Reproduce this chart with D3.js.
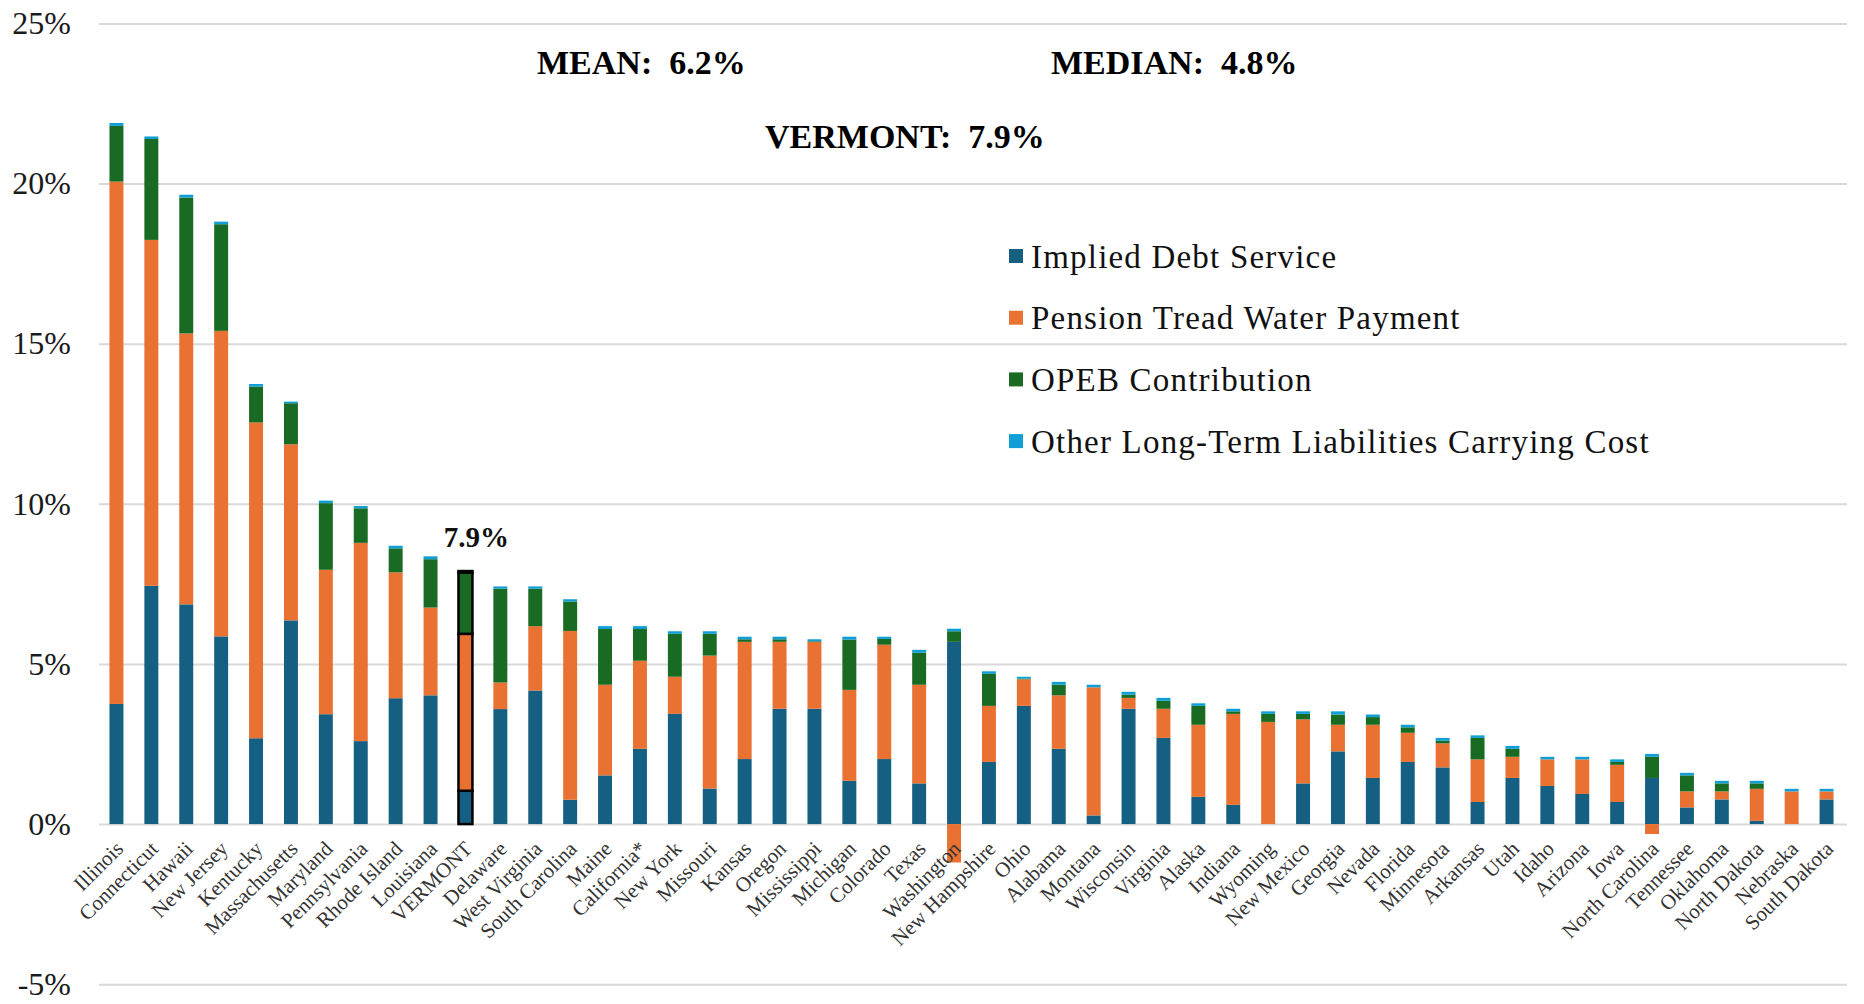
<!DOCTYPE html>
<html>
<head>
<meta charset="utf-8">
<script src="https://cdn.jsdelivr.net/npm/d3@7"></script>
<style>
  html, body { margin: 0; padding: 0; background: #fff; }
  svg text { font-family: 'Liberation Serif', 'Times New Roman', serif; }
</style>
</head>
<body>
<div id="chart"></div>
<script>
const states = ['Illinois', 'Connecticut', 'Hawaii', 'New Jersey', 'Kentucky', 'Massachusetts', 'Maryland',
  'Pennsylvania', 'Rhode Island', 'Louisiana', 'VERMONT', 'Delaware', 'West Virginia', 'South Carolina',
  'Maine', 'California*', 'New York', 'Missouri', 'Kansas', 'Oregon', 'Mississippi', 'Michigan', 'Colorado',
  'Texas', 'Washington', 'New Hampshire', 'Ohio', 'Alabama', 'Montana', 'Wisconsin', 'Virginia', 'Alaska',
  'Indiana', 'Wyoming', 'New Mexico', 'Georgia', 'Nevada', 'Florida', 'Minnesota', 'Arkansas', 'Utah',
  'Idaho', 'Arizona', 'Iowa', 'North Carolina', 'Tennessee', 'Oklahoma', 'North Dakota', 'Nebraska',
  'South Dakota'];

// percent of revenue
const debtService = [3.75, 7.44, 6.86, 5.86, 2.68, 6.36, 3.43, 2.59, 3.93, 4.02, 1.04, 3.59, 4.17, 0.76,
  1.52, 2.35, 3.44, 1.11, 2.03, 3.60, 3.60, 1.35, 2.03, 1.27, 5.69, 1.94, 3.69, 2.35, 0.27, 3.60, 2.69, 0.85,
  0.60, 0.00, 1.27, 2.27, 1.44, 1.94, 1.77, 0.69, 1.44, 1.19, 0.94, 0.69, 1.44, 0.52, 0.77, 0.10, 0.00, 0.77];
const pensionTreadWater = [16.31, 10.80, 8.46, 9.54, 9.86, 5.50, 4.51, 6.19, 3.93, 2.74, 4.90, 0.83, 2.01, 5.27,
  2.83, 2.75, 1.16, 4.15, 3.66, 2.09, 2.09, 2.84, 3.57, 3.08, -1.20, 1.75, 0.83, 1.67, 4.00, 0.34, 0.91, 2.25,
  2.84, 3.19, 2.00, 0.83, 1.66, 0.91, 0.75, 1.33, 0.66, 0.83, 1.08, 1.16, -0.31, 0.50, 0.25, 1.00, 1.02, 0.25];
const opebContribution = [1.74, 3.15, 4.24, 3.33, 1.12, 1.28, 2.08, 1.08, 0.75, 1.51, 1.91, 2.93, 1.17, 0.92,
  1.74, 0.99, 1.34, 0.68, 0.08, 0.08, 0.02, 1.57, 0.18, 1.00, 0.33, 1.00, 0.02, 0.33, 0.00, 0.10, 0.25, 0.59,
  0.08, 0.25, 0.17, 0.32, 0.24, 0.17, 0.08, 0.67, 0.25, 0.00, 0.00, 0.09, 0.66, 0.50, 0.25, 0.17, 0.00, 0.00];
const otherLtl = [0.09, 0.08, 0.09, 0.08, 0.08, 0.05, 0.08, 0.07, 0.08, 0.09, 0.05, 0.07, 0.07, 0.07,
  0.09, 0.09, 0.08, 0.08, 0.08, 0.08, 0.06, 0.09, 0.07, 0.09, 0.08, 0.08, 0.06, 0.09, 0.08, 0.09, 0.09, 0.08,
  0.08, 0.08, 0.08, 0.10, 0.08, 0.08, 0.09, 0.08, 0.09, 0.08, 0.08, 0.08, 0.09, 0.08, 0.08, 0.08, 0.08, 0.08];

const seriesNames = ['Implied Debt Service', 'Pension Tread Water Payment', 'OPEB Contribution',
  'Other Long-Term Liabilities Carrying Cost'];
const seriesColors = ['#156082', '#E97132', '#196B24', '#0F9ED5'];
const yTicks = [-5, 0, 5, 10, 15, 20, 25];

const highlight = 'VERMONT';
const highlightLabel = '7.9%';
const statsTop = ['MEAN:  6.2%', 'MEDIAN:  4.8%'];
const statsVt = 'VERMONT:  7.9%';

const w = 1864;
const h = 1004;

const rows = states.map((s, i) => ({
  state: s,
  debt: debtService[i],
  pension: pensionTreadWater[i],
  opeb: opebContribution[i],
  other: otherLtl[i]
}));
const keys = ['debt', 'pension', 'opeb', 'other'];

const stacked = d3.stack().keys(keys).offset(d3.stackOffsetDiverging)(rows);

const xScale = d3.scaleBand()
  .domain(states)
  .range([99, 1844])
  .paddingInner(0.6)
  .paddingOuter(0.3);

const yScale = d3.scaleLinear()
  .domain([-5, 25])
  .range([984.2, 23.4]);

const svg = d3.select('#chart')
  .append('svg')
  .attr('width', w)
  .attr('height', h);

// y axis + gridlines
const yAxis = svg.append('g')
  .attr('transform', 'translate(99,0)')
  .call(d3.axisLeft(yScale)
    .tickValues(yTicks)
    .tickSize(-(1847 - 99))
    .tickPadding(28)
    .tickFormat(d => d + '%'));
yAxis.select('.domain').remove();
yAxis.selectAll('.tick line')
  .attr('stroke', '#D9D9D9')
  .attr('stroke-width', 2);
yAxis.selectAll('.tick text')
  .attr('font-size', 32)
  .attr('fill', '#1a1a1a')
  .attr('font-family', "'Liberation Serif', 'Times New Roman', serif");

// bars
const layers = svg.append('g')
  .selectAll('g')
  .data(stacked)
  .enter()
  .append('g')
  .attr('fill', (d, i) => seriesColors[i]);

layers.selectAll('rect')
  .data(d => d)
  .enter()
  .append('rect')
  .attr('x', d => xScale(d.data.state))
  .attr('width', xScale.bandwidth())
  .attr('y', d => yScale(Math.max(d[0], d[1])))
  .attr('height', d => Math.abs(yScale(d[0]) - yScale(d[1])))
  .attr('stroke', d => d.data.state === highlight ? '#000' : 'none')
  .attr('stroke-width', 2.5);

// highlighted bar label
const vt = rows.find(r => r.state === highlight);
const vtTop = vt.debt + Math.max(vt.pension, 0) + vt.opeb + vt.other;
svg.append('text')
  .attr('x', xScale(highlight) + xScale.bandwidth() / 2 + 11)
  .attr('y', yScale(vtTop) - 24)
  .attr('text-anchor', 'middle')
  .attr('font-size', 29)
  .attr('font-weight', 'bold')
  .attr('fill', '#111')
  .text(highlightLabel);

// x axis labels
const xAxis = svg.append('g')
  .attr('transform', 'translate(0,' + yScale(0) + ')')
  .call(d3.axisBottom(xScale).tickSize(0));
xAxis.select('.domain').remove();
xAxis.selectAll('.tick text')
  .attr('font-size', 21)
  .attr('fill', '#333')
  .attr('font-family', "'Liberation Serif', 'Times New Roman', serif")
  .attr('text-anchor', 'end')
  .attr('y', 0)
  .attr('dy', 0)
  .attr('transform', 'translate(8,26) rotate(-45)');

// summary stats
svg.append('text')
  .attr('x', 537).attr('y', 74)
  .attr('font-size', 34).attr('font-weight', 'bold')
  .style('white-space', 'pre')
  .text(statsTop[0]);
svg.append('text')
  .attr('x', 1051).attr('y', 74)
  .attr('font-size', 34).attr('font-weight', 'bold')
  .style('white-space', 'pre')
  .text(statsTop[1]);
svg.append('text')
  .attr('x', 765).attr('y', 148)
  .attr('font-size', 34).attr('font-weight', 'bold')
  .style('white-space', 'pre')
  .text(statsVt);

// legend
const legend = svg.append('g')
  .selectAll('g')
  .data(seriesNames)
  .enter()
  .append('g')
  .attr('transform', (d, i) => 'translate(1009,' + (256 + i * 61.7) + ')');
legend.append('rect')
  .attr('x', 0).attr('y', -7)
  .attr('width', 14).attr('height', 14)
  .attr('fill', (d, i) => seriesColors[i]);
legend.append('text')
  .attr('x', 22).attr('y', 0)
  .attr('dy', '0.35em')
  .attr('font-size', 33)
  .attr('letter-spacing', 1.2)
  .attr('fill', '#111')
  .text(d => d);
</script>
</body>
</html>
